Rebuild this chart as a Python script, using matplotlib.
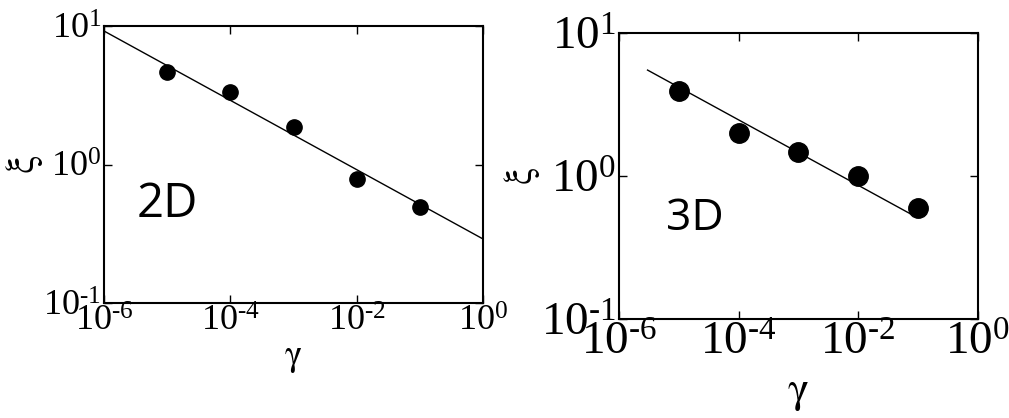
import math
import matplotlib
matplotlib.use('Agg')
import matplotlib.pyplot as plt
from matplotlib.ticker import FixedLocator, FuncFormatter, NullLocator

plt.rcParams['mathtext.fontset'] = 'custom'
plt.rcParams['mathtext.rm'] = 'Liberation Serif'
plt.rcParams['font.family'] = 'Liberation Serif'

# correlation length vs shear rate
gamma_2d = [1e-5, 1e-4, 1e-3, 1e-2, 1e-1]
xi_2d = [4.63, 3.36, 1.87, 0.786, 0.496]
fit_x_2d = [1e-6, 1e0]
fit_y_2d = [9.2, 0.29]

gamma_3d = [1e-5, 1e-4, 1e-3, 1e-2, 1e-1]
xi_3d = [3.96, 2.0, 1.48, 1.0, 0.595]
fit_x_3d = [3.0e-6, 7.3e-2]
fit_y_3d = [5.53, 0.548]

x_ticks = [1e-6, 1e-4, 1e-2, 1e0]
y_ticks = [1e-1, 1e0, 1e1]


def powTen(v, pos):
	# plain hyphen in the exponent instead of a wide minus sign
	e = int(round(math.log10(v)))
	if e < 0:
		return r'$\mathregular{10^{\text{-}%d}}$' % (-e)
	return r'$\mathregular{10^{%d}}$' % e


def setupAxes(ax, xsize, ysize):
	ax.set_xscale('log')
	ax.set_yscale('log')
	ax.set_xlim(1e-6, 1e0)
	ax.set_ylim(1e-1, 1e1)
	ax.xaxis.set_major_locator(FixedLocator(x_ticks))
	ax.yaxis.set_major_locator(FixedLocator(y_ticks))
	ax.xaxis.set_minor_locator(NullLocator())
	ax.yaxis.set_minor_locator(NullLocator())
	ax.xaxis.set_major_formatter(FuncFormatter(powTen))
	ax.yaxis.set_major_formatter(FuncFormatter(powTen))
	ax.tick_params(which='major', direction='in', length=6, width=1,
		top=True, right=True, pad=2)
	ax.tick_params(axis='x', labelsize=xsize)
	ax.tick_params(axis='y', labelsize=ysize)
	for s in ax.spines.values():
		s.set_linewidth(1.5)


fig = plt.figure(figsize=(10.09, 4.18), dpi=100)

ax1 = fig.add_axes([0.1031, 0.2751, 0.3756, 0.6627])
setupAxes(ax1, 26, 26)
ax1.plot(fit_x_2d, fit_y_2d, color='black', lw=1)
ax1.plot(gamma_2d, xi_2d, 'o', color='black', ms=11)
ax1.set_xlabel(r'$\mathrm{\gamma}$', fontsize=26, math_fontfamily='stix')
ax1.set_ylabel(r'$\mathrm{\xi}$', fontsize=30, math_fontfamily='stix')
ax1.xaxis.set_label_coords(0.5, -0.14)
ax1.yaxis.set_label_coords(-0.155, 0.5)
ax1.text(0.085, 0.31, '2D', transform=ax1.transAxes, fontsize=34,
	family='Open Sans')

ax2 = fig.add_axes([0.6135, 0.2368, 0.3555, 0.6835])
setupAxes(ax2, 34, 34)
ax2.plot(fit_x_3d, fit_y_3d, color='black', lw=1)
ax2.plot(gamma_3d, xi_3d, 'o', color='black', ms=14)
ax2.set_xlabel(r'$\mathrm{\gamma}$', fontsize=32, math_fontfamily='stix')
ax2.set_ylabel(r'$\mathrm{\xi}$', fontsize=28, math_fontfamily='stix')
ax2.xaxis.set_label_coords(0.5, -0.19)
ax2.yaxis.set_label_coords(-0.215, 0.5)
ax2.text(0.13, 0.31, '3D', transform=ax2.transAxes, fontsize=32,
	family='Open Sans')

fig.savefig('out.png', dpi=100)
